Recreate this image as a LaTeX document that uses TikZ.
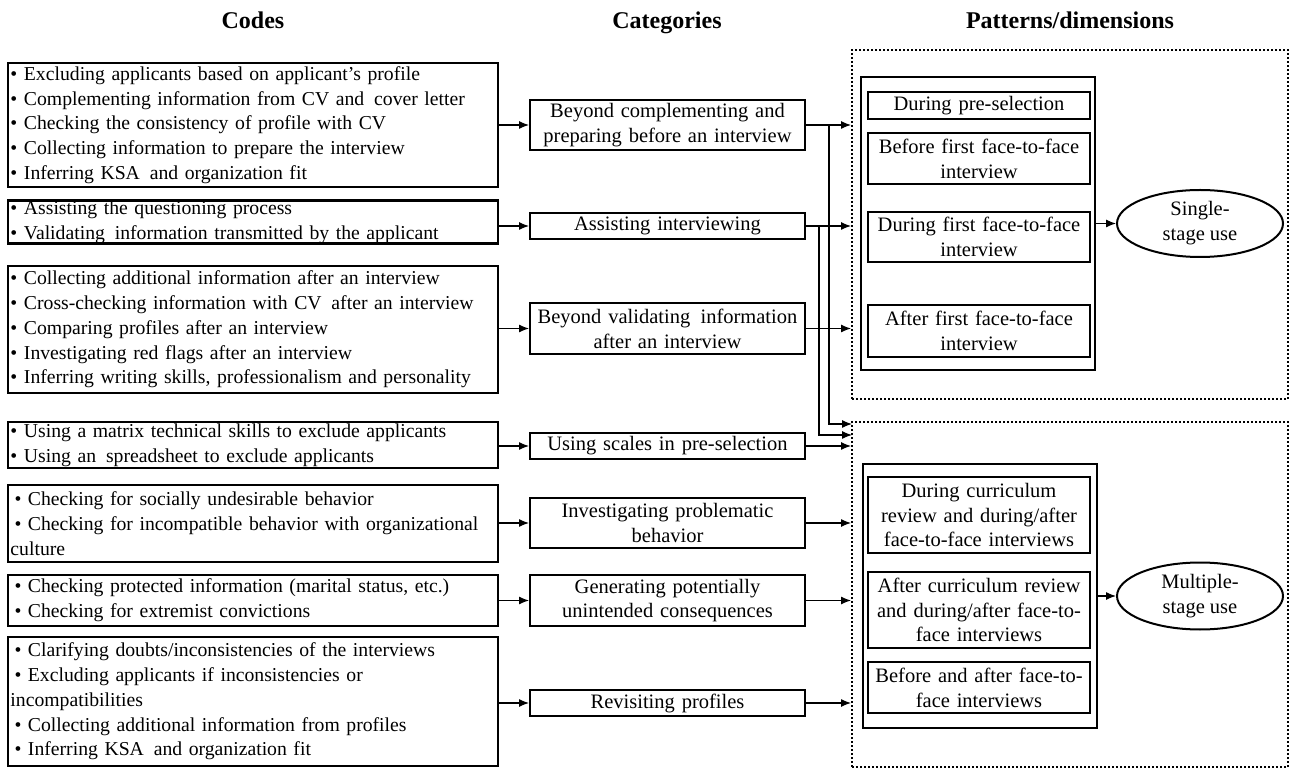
\documentclass[tikz,border=0pt]{standalone}
\usepackage{fontspec}
\setmainfont{Liberation Serif}
\usepackage{tikz}
\usetikzlibrary{shapes.geometric, arrows.meta}

\begin{document}
\begin{tikzpicture}[x=0.5pt, y=-0.5pt, >={Latex[length=5pt,width=4pt]},
    every node/.style={font=\fontsize{10.25}{12.4}\selectfont},
    codebox/.style={draw, line width=1.1pt, minimum width=245pt, text width=242.5pt, inner xsep=1.25pt, inner ysep=0pt, align=left, font=\fontsize{9.85}{12.4}\selectfont},
    catbox/.style={draw, line width=1pt, minimum width=137.5pt, text width=134pt, inner xsep=1.5pt, inner ysep=0pt, align=center},
    stagebox/.style={draw, line width=1pt, minimum width=111pt, text width=108pt, inner xsep=1.5pt, inner ysep=0pt, align=center},
    frame/.style={draw, line width=1pt, minimum width=117pt},
    zone/.style={draw, line width=1pt, dash pattern=on 1pt off 1pt, minimum width=218pt},
    use/.style={draw, ellipse, line width=1pt, minimum width=83pt, minimum height=33.5pt, inner sep=0pt, align=center},
    title/.style={anchor=base, font=\bfseries\fontsize{12}{14}\selectfont},
    link/.style={->, line width=0.6pt}]
    \useasboundingbox (0,0) rectangle (1289,769);

    % Titulos
    \node[title] (tcodes) at (253,29) {Codes};
    \node[title] (tcats) at (667,29) {Categories};
    \node[title] (tpats) at (1070,29) {Patterns/dimensions};

    % Codigos
    \node[codebox, minimum height=62pt] (code1) at (253,125) {%
        • Excluding applicants based on applicant's profile\\
        • Complementing information from CV and\, cover letter\\
        • Checking the consistency of profile with CV\\
        • Collecting information to prepare the interview\\
        • Inferring KSA\, and organization fit};
    \node[codebox, minimum height=21.5pt] (code2) at (253,222) {%
        • Assisting the questioning process\\
        • Validating\, information transmitted by the applicant};
    \node[codebox, minimum height=63.5pt] (code3) at (253,329.5) {%
        • Collecting additional information after an interview\\
        • Cross-checking information with CV\, after an interview\\
        • Comparing profiles after an interview\\
        • Investigating red flags after an interview\\
        • Inferring writing skills, professionalism and personality};
    \node[codebox, minimum height=23pt] (code4) at (253,445) {%
        • Using a matrix technical skills to exclude applicants\\
        • Using an\, spreadsheet to exclude applicants};
    \node[codebox, minimum height=38.5pt] (code5) at (253,523.5) {%
        \hspace*{2pt}• Checking for socially undesirable behavior\\
        \hspace*{2pt}• Checking for incompatible behavior with organizational\\
        culture};
    \node[codebox, minimum height=25.5pt] (code6) at (253,600.5) {%
        \hspace*{2pt}• Checking protected information (marital status, etc.)\\
        \hspace*{2pt}• Checking for extremist convictions};
    \node[codebox, minimum height=64.5pt] (code7) at (253,701.5) {%
        \hspace*{2pt}• Clarifying doubts/inconsistencies of the interviews\\
        \hspace*{2pt}• Excluding applicants if inconsistencies or\\
        incompatibilities\\
        \hspace*{2pt}• Collecting additional information from profiles\\
        \hspace*{2pt}• Inferring KSA\, and organization fit};

    % Categorias
    \node[catbox, minimum height=25pt] (cat1) at (667.5,125) {Beyond complementing and\\preparing before an interview};
    \node[catbox, minimum height=13pt] (cat2) at (667.5,226) {Assisting interviewing};
    \node[catbox, minimum height=25.5pt] (cat3) at (667.5,328.5) {Beyond validating\, information\\after an interview};
    \node[catbox, minimum height=13pt] (cat4) at (667.5,446) {Using scales in pre-selection};
    \node[catbox, minimum height=25pt] (cat5) at (667.5,523) {Investigating problematic\\behavior};
    \node[catbox, minimum height=25.5pt] (cat6) at (667.5,600.5) {Generating potentially\\unintended consequences};
    \node[catbox, minimum height=13pt] (cat7) at (667.5,703) {Revisiting profiles};

    % Zonas punteadas
    \node[zone, minimum height=174.5pt] (single) at (1070,224.5) {};
    \node[zone, minimum height=172.5pt] (multiple) at (1070,594.5) {};

    % Uso en una etapa
    \node[frame, minimum height=146.5pt] (sframe) at (978,223.5) {};
    \node[stagebox, minimum height=13.5pt] (pre) at (979,105.5) {During pre-selection};
    \node[stagebox, minimum height=25.5pt] (before) at (979,158.5) {Before first face-to-face\\interview};
    \node[stagebox, minimum height=25pt] (during) at (979,237) {During first face-to-face\\interview};
    \node[stagebox, minimum height=26pt] (after) at (979,331) {After first face-to-face\\interview};
    \node[use] (suse) at (1200,223.5) {Single-\\stage use};

    % Uso en varias etapas
    \node[frame, minimum height=131.5pt] (mframe) at (980,596) {};
    \node[stagebox, minimum height=38pt] (review) at (979,515) {During curriculum\\review and during/after\\face-to-face interviews};
    \node[stagebox, minimum height=38pt] (afterrev) at (979,610) {After curriculum review\\and during/after face-to-\\face interviews};
    \node[stagebox, minimum height=25.5pt] (beforeafter) at (979,687.5) {Before and after face-to-\\face interviews};
    \node[use] (muse) at (1200,596) {Multiple-\\stage use};

    % Flechas codigos -> categorias
    \foreach \i in {1,...,7}
        \draw[link] (cat\i -| code\i.east) -- (cat\i.west);

    % Flechas categorias -> patrones
    \foreach \i in {1,2,3}
        \draw[link] (cat\i.east) -- (cat\i -| single.west);
    \foreach \i in {4,...,7}
        \draw[link] (cat\i.east) -- (cat\i -| multiple.west);
    \coordinate (m1) at (852,424);
    \coordinate (m2) at (852,435);
    \draw[link] (cat1.east) -- ++(23,0) |- (m1);
    \draw[link] (cat2.east) -- ++(13,0) |- (m2);

    % Flechas a los usos
    \draw[link] (sframe) -- (suse);
    \draw[link] (mframe) -- (muse);
\end{tikzpicture}
\end{document}
